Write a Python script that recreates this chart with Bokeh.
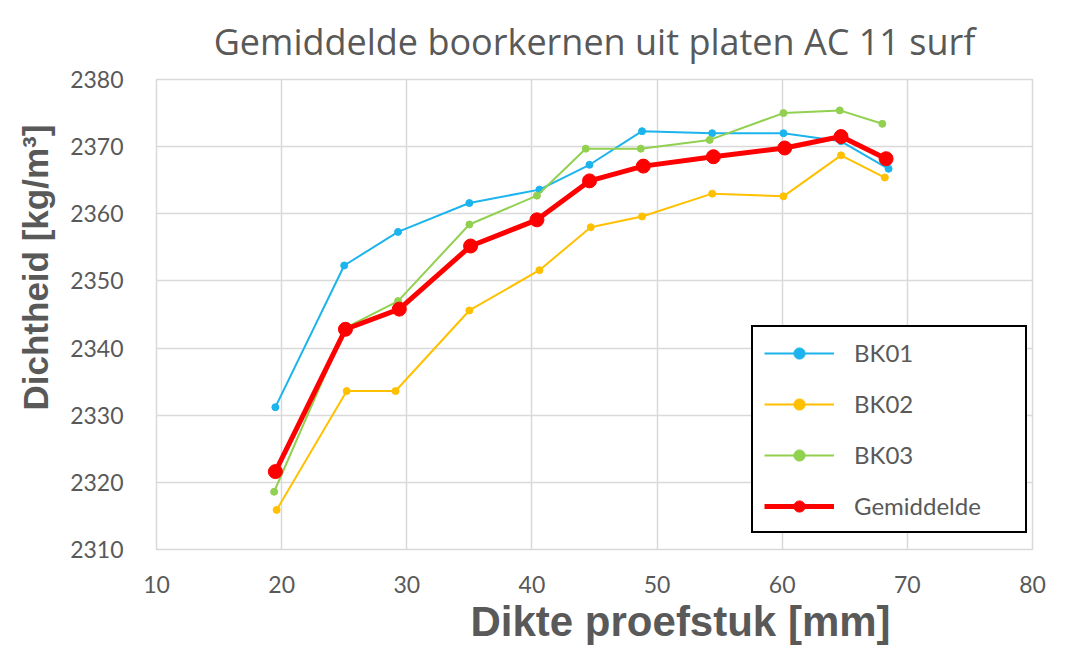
from bokeh.plotting import figure
from bokeh.models import Range1d, FixedTicker, Legend, Title
from bokeh.embed import file_html
from bokeh.resources import INLINE

# ---- data ----
title_text = "Gemiddelde boorkernen uit platen AC 11 surf"
x_label = "Dikte proefstuk [mm]"
y_label = "Dichtheid [kg/m³]"

x_ticks = [10, 20, 30, 40, 50, 60, 70, 80]
y_ticks = [2310, 2320, 2330, 2340, 2350, 2360, 2370, 2380]

bk01_x = [19.5, 25.0, 29.3, 35.0, 40.6, 44.6, 48.8, 54.4, 60.1, 64.7, 68.5]
bk01_y = [2331.2, 2352.3, 2357.3, 2361.6, 2363.6, 2367.3, 2372.3, 2372.0, 2372.0, 2370.8, 2366.7]

bk02_x = [19.6, 25.2, 29.1, 35.0, 40.6, 44.7, 48.8, 54.4, 60.1, 64.7, 68.2]
bk02_y = [2315.9, 2333.6, 2333.6, 2345.6, 2351.6, 2358.0, 2359.6, 2363.0, 2362.6, 2368.7, 2365.4]

bk03_x = [19.4, 25.1, 29.3, 35.0, 40.4, 44.3, 48.7, 54.2, 60.1, 64.6, 68.0]
bk03_y = [2318.6, 2343.0, 2347.0, 2358.4, 2362.7, 2369.7, 2369.7, 2371.0, 2375.0, 2375.4, 2373.4]

gem_x = [19.5, 25.1, 29.4, 35.1, 40.4, 44.6, 48.9, 54.5, 60.2, 64.7, 68.3]
gem_y = [2321.6, 2342.8, 2345.8, 2355.2, 2359.1, 2364.9, 2367.1, 2368.5, 2369.8, 2371.5, 2368.2]

TEXT = "#595959"
GRID = "#d9d9d9"

p = figure(width=1083, height=647, output_backend="svg", toolbar_location=None,
           x_range=Range1d(10, 80), y_range=Range1d(2310, 2380),
           min_border_left=156, min_border_right=51, min_border_top=79, min_border_bottom=98)
p.background_fill_color = "white"
p.border_fill_color = "white"
p.outline_line_color = GRID
p.outline_line_width = 1.5

p.title.text = title_text
p.title.align = "center"
p.title.text_font = "Open Sans"
p.title.text_font_size = "36px"
p.title.text_font_style = "normal"
p.title.text_color = TEXT
p.title.standoff = 27

p.xaxis.ticker = FixedTicker(ticks=x_ticks)
p.yaxis.ticker = FixedTicker(ticks=y_ticks)
for ax in (p.xaxis, p.yaxis):
    ax.axis_line_color = None
    ax.major_tick_line_color = None
    ax.minor_tick_line_color = None
    ax.major_label_text_font = "Lato"
    ax.major_label_text_font_size = "23px"
    ax.major_label_text_color = TEXT
p.xaxis.major_label_standoff = 20
p.yaxis.major_label_standoff = 27

p.xgrid.ticker = FixedTicker(ticks=x_ticks)
p.ygrid.ticker = FixedTicker(ticks=y_ticks)
p.grid.grid_line_color = GRID
p.grid.grid_line_width = 1.5

series = [
    ("BK01", bk01_x, bk01_y, "#1CB4EC", 2, 7),
    ("BK02", bk02_x, bk02_y, "#FFC000", 2, 7),
    ("BK03", bk03_x, bk03_y, "#92D050", 2, 7),
    ("Gemiddelde", gem_x, gem_y, "#FF0000", 5, 14),
]
items = []
for name, xs, ys, col, lw, ms in series:
    r1 = p.line(xs, ys, line_color=col, line_width=lw)
    r2 = p.scatter(xs, ys, marker="circle", size=ms, fill_color=col, line_color=col)
    items.append((name, [r1, r2]))

legend = Legend(items=items, location=(595, 16), orientation="vertical")
legend.border_line_color = "black"
legend.border_line_width = 2
legend.border_line_alpha = 1
legend.background_fill_color = "white"
legend.background_fill_alpha = 1
legend.padding = 11
legend.margin = 0
legend.spacing = 22
legend.glyph_width = 70
legend.glyph_height = 28
legend.label_height = 28
legend.label_width = 160
legend.label_standoff = 20
legend.label_text_font = "Lato"
legend.label_text_font_size = "24px"
legend.label_text_color = TEXT
p.add_layout(legend, "center")

xt = Title(text=x_label, align="left", offset=314, standoff=0,
           text_font="Liberation Sans", text_font_style="bold",
           text_font_size="42px", text_color=TEXT)
p.add_layout(xt, "below")

yt = Title(text=y_label, align="left", offset=139, standoff=25,
           text_font="Liberation Sans", text_font_style="bold",
           text_font_size="35px", text_color=TEXT)
p.add_layout(yt, "left")

open("out.html", "w").write(file_html(p, INLINE))
